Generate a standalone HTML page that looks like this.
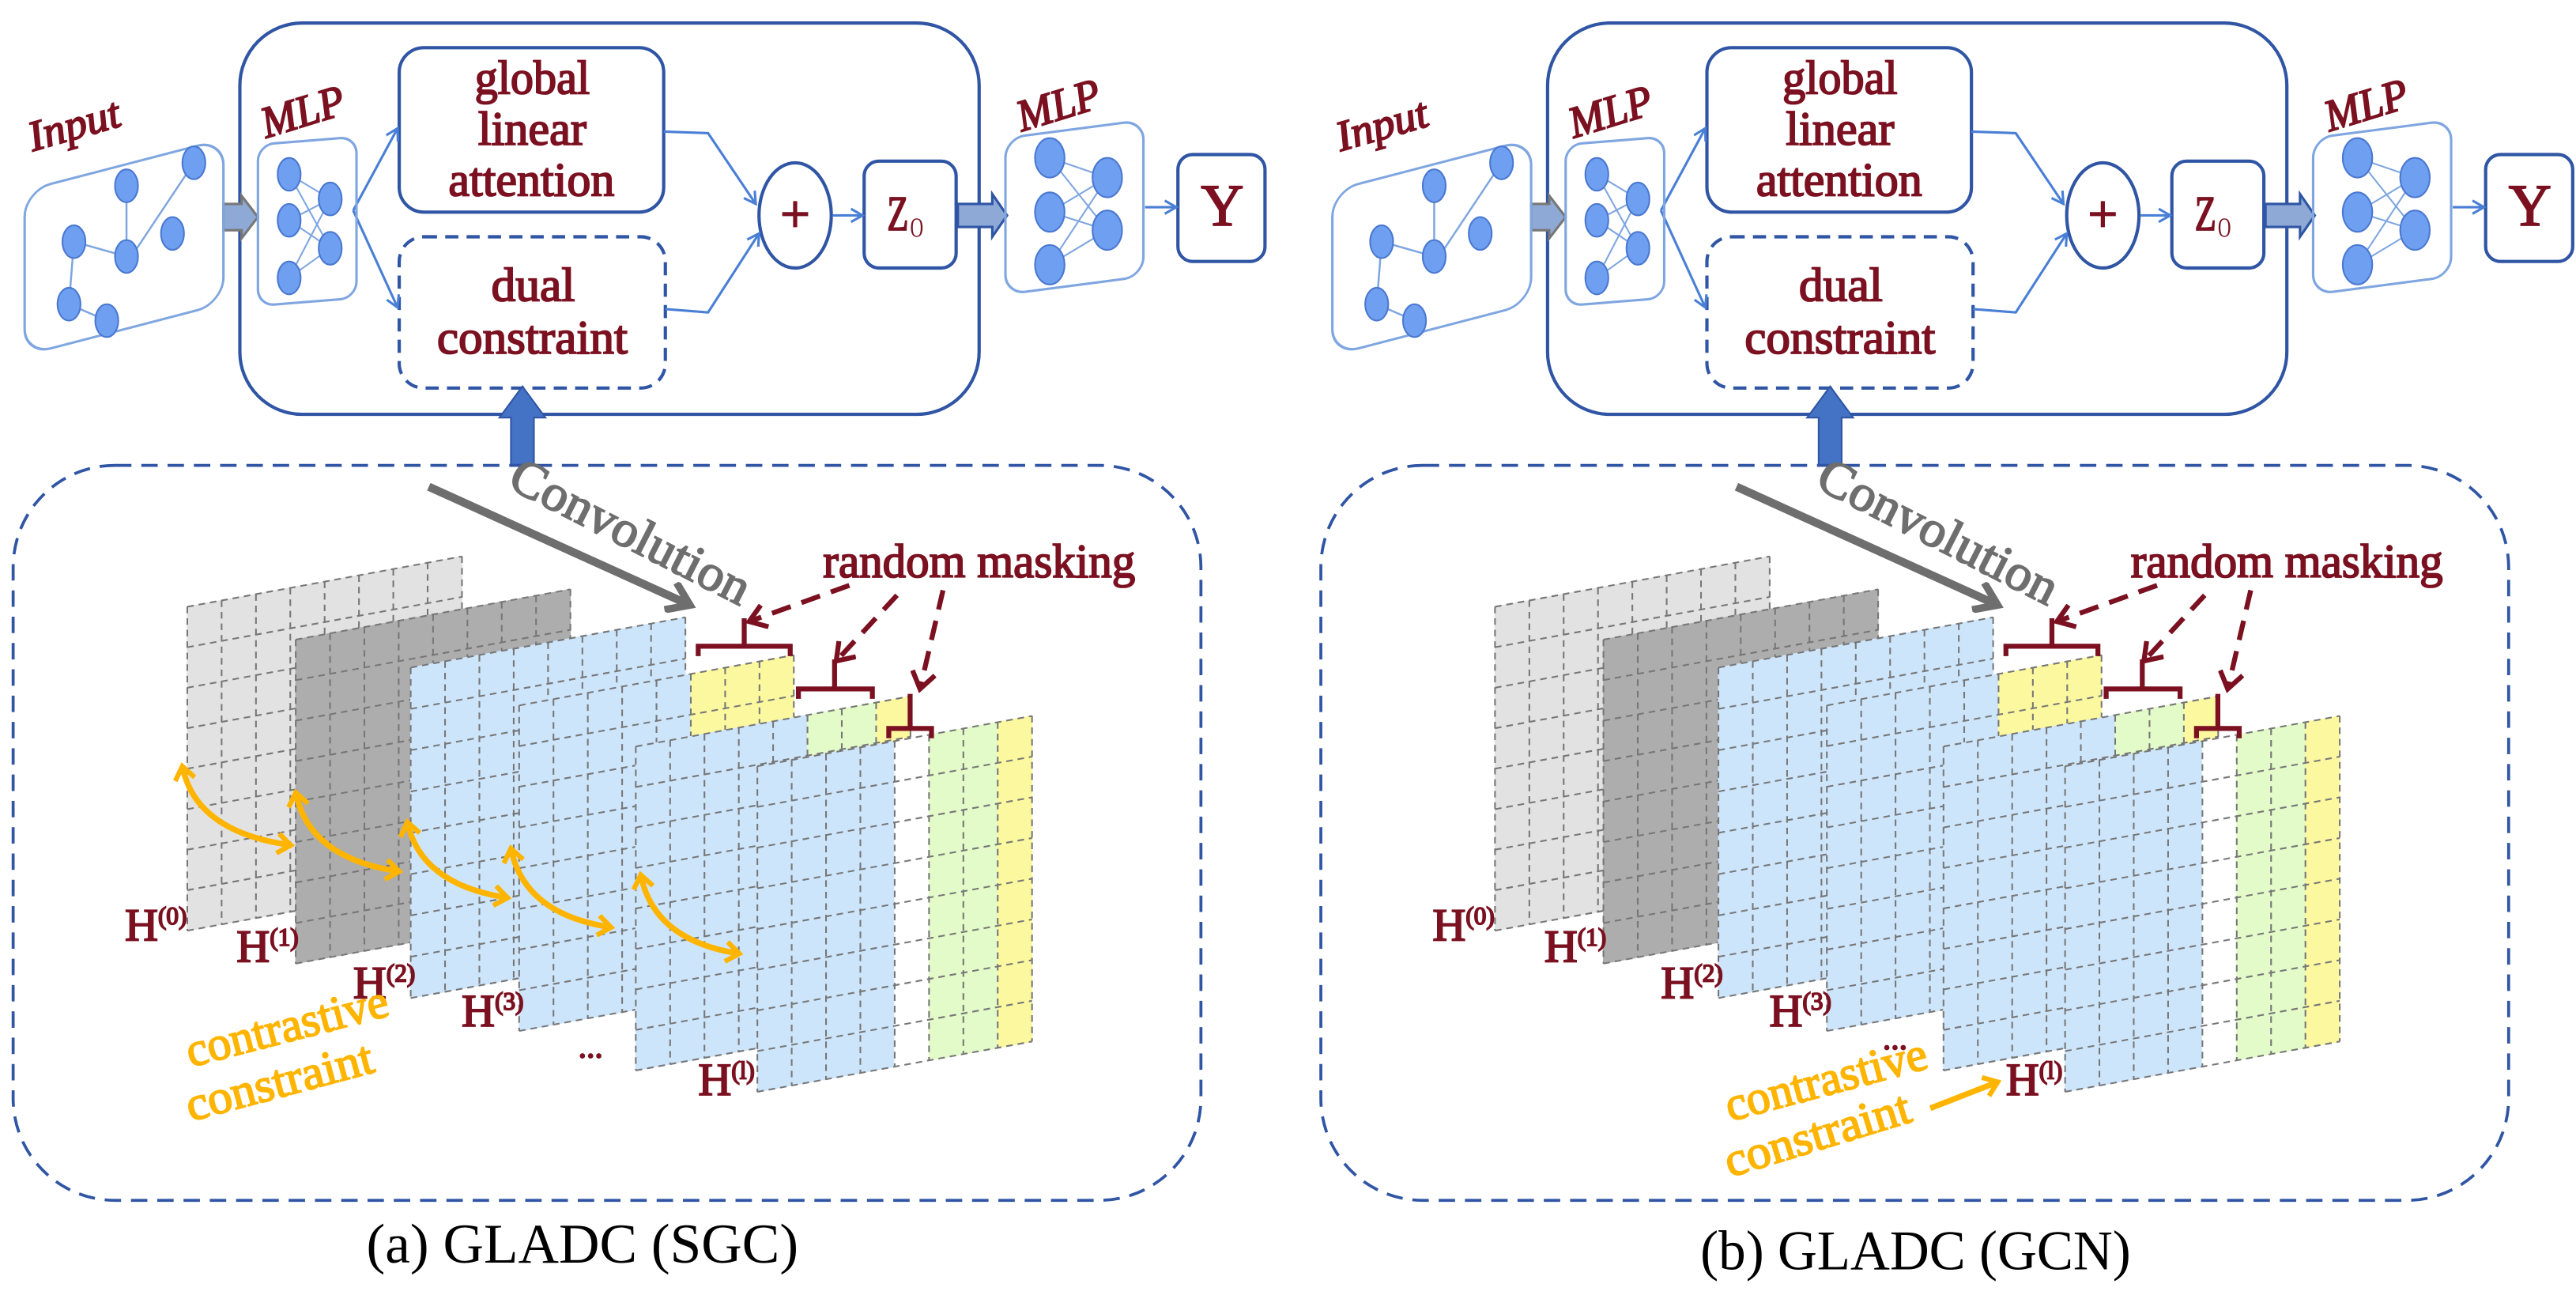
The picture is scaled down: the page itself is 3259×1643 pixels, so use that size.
<!DOCTYPE html>
<html><head><meta charset="utf-8"><style>
html,body{margin:0;padding:0;background:#fff;}
svg{display:block}
</style></head><body>
<svg id="s" width="3259" height="1643" viewBox="0 0 1568 790" preserveAspectRatio="none" xmlns="http://www.w3.org/2000/svg">
<defs>
<marker id="oa" markerWidth="14" markerHeight="14" refX="10" refY="7" orient="auto-start-reverse" markerUnits="userSpaceOnUse"><path d="M2,1 L10,7 L2,13" fill="none" stroke="#ffb400" stroke-width="3"/></marker>
</defs>
<g id="pa"></g>
<g id="pb" transform="translate(796,0)"></g>
</svg>
<script>
var NS="http://www.w3.org/2000/svg";
function el(p,tag,a,txt){var e=document.createElementNS(NS,tag);for(var k in a)e.setAttribute(k,a[k]);if(txt)e.textContent=txt;p.appendChild(e);return e;}
var BLUE="#cde5fb",YEL="#fbf8a0",GRN="#e3fbc8";
function layer(g,x,y,h,cols){
 var cw=20.9,s=-0.183,n=cols.length,rows=8,rh=h/rows;
 for(var i=0;i<n;i++){if(!cols[i])continue;var x0=x+i*cw,x1=x0+cw;
  el(g,"polygon",{points:[x0,y+s*i*cw,x1,y+s*(i+1)*cw,x1,y+s*(i+1)*cw+h,x0,y+s*i*cw+h].join(" "),fill:cols[i],stroke:cols[i],"stroke-width":0.5});}
 var st={stroke:"#777","stroke-width":1,"stroke-dasharray":"4,3",fill:"none"};
 for(var i=0;i<=n;i++){var xx=x+i*cw,yy=y+s*i*cw;var a=Object.assign({x1:xx,y1:yy,x2:xx,y2:yy+h},st);el(g,"line",a);}
 for(var r=0;r<=rows;r++){var a=Object.assign({x1:x,y1:y+r*rh,x2:x+n*cw,y2:y+s*n*cw+r*rh},st);el(g,"line",a);}
}
function common(g){
 var B8=[BLUE,BLUE,BLUE,BLUE,BLUE,BLUE,BLUE,BLUE];
 layer(g,114,369,197,Array(8).fill("#e2e2e2"));
 layer(g,180,389,197,Array(8).fill("#adadad"));
 layer(g,250,406,201,B8);
 layer(g,316,429,198,[BLUE,BLUE,BLUE,BLUE,BLUE,YEL,YEL,YEL]);
 layer(g,387,454,197,[BLUE,BLUE,BLUE,BLUE,BLUE,GRN,GRN,YEL]);
 layer(g,461,466,198,[BLUE,BLUE,BLUE,BLUE,"#ffffff",GRN,GRN,YEL]);
}
function arrowsA(g){
 var A=[[111,466,177,514],[180,482,243,530],[248,500,309,546],[311,516,372,564],[390,532,450,580]];
 A.forEach(function(a){el(g,"path",{d:"M"+a[0]+","+a[1]+" Q"+(a[0]+8)+","+(a[3]-8)+" "+a[2]+","+a[3],fill:"none",stroke:"#ffb400","stroke-width":3.5,"marker-start":"url(#oa)","marker-end":"url(#oa)"});});
}
["pa","pb"].forEach(function(id){
 var g=document.getElementById(id);
 common(g);
 if(id=="pa")arrowsA(g);
 else el(g,"line",{x1:379,y1:674,x2:420,y2:658,stroke:"#ffb400","stroke-width":3.5,"marker-end":"url(#oa)"});
});
</script>
<svg width="3259" height="1643" viewBox="0 0 1568 790" preserveAspectRatio="none" xmlns="http://www.w3.org/2000/svg" style="position:absolute;left:0;top:0">
<defs>
<marker id="ah2" markerWidth="10" markerHeight="10" refX="8" refY="5" orient="auto" markerUnits="userSpaceOnUse"><path d="M1,1 L8,5 L1,9" fill="none" stroke="#4a7fd6" stroke-width="1.5"/></marker>
<marker id="ra2" markerWidth="16" markerHeight="16" refX="12" refY="8" orient="auto" markerUnits="userSpaceOnUse"><path d="M2,1 L12,8 L2,15" fill="none" stroke="#7b1020" stroke-width="3"/></marker>
<marker id="ga2" markerWidth="20" markerHeight="20" refX="15" refY="10" orient="auto" markerUnits="userSpaceOnUse"><path d="M2,1 L15,10 L2,19" fill="none" stroke="#6e6e6e" stroke-width="4.5"/></marker>
</defs>
<g id="topA">
 <rect x="146" y="14" width="450" height="238" rx="38" fill="none" stroke="#2f55a4" stroke-width="2"/>
 <rect x="243" y="29" width="161" height="100" rx="15" fill="none" stroke="#2f55a4" stroke-width="2"/>
 <rect x="243" y="144" width="162" height="92" rx="15" fill="none" stroke="#2f55a4" stroke-width="2" stroke-dasharray="8,5"/>
 <ellipse cx="484" cy="131" rx="22" ry="32" fill="none" stroke="#2f55a4" stroke-width="2"/>
 <rect x="526" y="98" width="56" height="65" rx="9" fill="none" stroke="#2f55a4" stroke-width="2"/>
 <rect x="717" y="94" width="53" height="65" rx="9" fill="none" stroke="#2f55a4" stroke-width="2"/>
 <path d="M215,128 L242,78" fill="none" stroke="#4a7fd6" stroke-width="1.5" marker-end="url(#ah2)"/>
 <path d="M215,128 L242,187" fill="none" stroke="#4a7fd6" stroke-width="1.5" marker-end="url(#ah2)"/>
 <path d="M404,80 L431,81 L460,124" fill="none" stroke="#4a7fd6" stroke-width="1.5" marker-end="url(#ah2)"/>
 <path d="M405,188 L431,190 L462,142" fill="none" stroke="#4a7fd6" stroke-width="1.5" marker-end="url(#ah2)"/>
 <path d="M507,131 L525,131" fill="none" stroke="#4a7fd6" stroke-width="1.5" marker-end="url(#ah2)"/>
 <path d="M697,126 L716,126" fill="none" stroke="#4a7fd6" stroke-width="1.5" marker-end="url(#ah2)"/>
 <path d="M136,124 L147,124 L147,119 L157,132 L147,145 L147,140 L136,140 Z" fill="#8fa9d6" stroke="#777" stroke-width="1.5"/>
 <path d="M583,124 L604,124 L604,118 L613,131 L604,144 L604,138 L583,138 Z" fill="#8fa9d6" stroke="#2f55a4" stroke-width="1.5"/>
 <path d="M318,235 L332,254 L325,254 L325,283 L311,283 L311,254 L304,254 Z" fill="#4472c4" stroke="#2f55a4" stroke-width="1"/>
 <g transform="matrix(1,-0.26,0,1,15,116)"><rect x="0" y="0" width="121" height="100" rx="16" fill="none" stroke="#7fa6e0" stroke-width="1.5"/></g>
 <g stroke="#7fa6e0" stroke-width="1.2">
  <line x1="77" y1="113" x2="77" y2="156"/><line x1="118" y1="99" x2="80" y2="156"/>
  <line x1="45" y1="147" x2="77" y2="156"/><line x1="45" y1="147" x2="42" y2="185"/><line x1="42" y1="185" x2="65" y2="195"/>
 </g>
 <g fill="#6f9ff0" stroke="#4a78d0" stroke-width="1">
  <ellipse cx="118" cy="99" rx="7" ry="10"/><ellipse cx="77" cy="113" rx="7" ry="10"/><ellipse cx="105" cy="142" rx="7" ry="10"/>
  <ellipse cx="45" cy="147" rx="7" ry="10"/><ellipse cx="77" cy="156" rx="7" ry="10"/><ellipse cx="42" cy="185" rx="7" ry="10"/><ellipse cx="65" cy="195" rx="7" ry="10"/>
 </g>
 <g transform="matrix(1,-0.08,0,1,157,88)"><rect x="0" y="0" width="60" height="98" rx="10" fill="none" stroke="#7fa6e0" stroke-width="1.5"/></g>
 <g stroke="#7fa6e0" stroke-width="1">
  <line x1="176" y1="106" x2="201" y2="121"/><line x1="176" y1="106" x2="201" y2="151"/><line x1="176" y1="134" x2="201" y2="121"/><line x1="176" y1="134" x2="201" y2="151"/><line x1="176" y1="169" x2="201" y2="121"/><line x1="176" y1="169" x2="201" y2="151"/>
 </g>
 <g fill="#6f9ff0" stroke="#4a78d0" stroke-width="1">
  <ellipse cx="176" cy="106" rx="7" ry="10"/><ellipse cx="176" cy="134" rx="7" ry="10"/><ellipse cx="176" cy="169" rx="7" ry="10"/><ellipse cx="201" cy="121" rx="7" ry="10"/><ellipse cx="201" cy="151" rx="7" ry="10"/>
 </g>
 <g transform="matrix(1,-0.13,0,1,612,84)"><rect x="0" y="0" width="84" height="95" rx="12" fill="none" stroke="#7fa6e0" stroke-width="1.5"/></g>
 <g stroke="#7fa6e0" stroke-width="1">
  <line x1="639" y1="96" x2="674" y2="108"/><line x1="639" y1="96" x2="674" y2="140"/><line x1="639" y1="129" x2="674" y2="108"/><line x1="639" y1="129" x2="674" y2="140"/><line x1="639" y1="161" x2="674" y2="108"/><line x1="639" y1="161" x2="674" y2="140"/>
 </g>
 <g fill="#6f9ff0" stroke="#4a78d0" stroke-width="1">
  <ellipse cx="639" cy="96" rx="9" ry="12"/><ellipse cx="639" cy="129" rx="9" ry="12"/><ellipse cx="639" cy="161" rx="9" ry="12"/><ellipse cx="674" cy="108" rx="9" ry="12"/><ellipse cx="674" cy="140" rx="9" ry="12"/>
 </g>
 <g font-family="Liberation Serif, serif" fill="#7b1020" stroke="#7b1020" stroke-width="0.9">
 <g font-size="29">
  <text x="289" y="57" textLength="70" lengthAdjust="spacingAndGlyphs">global</text>
  <text x="291" y="88" textLength="66" lengthAdjust="spacingAndGlyphs">linear</text>
  <text x="273" y="119" textLength="101" lengthAdjust="spacingAndGlyphs">attention</text>
  <text x="299" y="183" textLength="51" lengthAdjust="spacingAndGlyphs">dual</text>
  <text x="266" y="215" textLength="116" lengthAdjust="spacingAndGlyphs">constraint</text>
 </g>
 <text x="484" y="141" font-size="32" text-anchor="middle">+</text>
 <text x="540" y="140" font-size="30" textLength="13" lengthAdjust="spacingAndGlyphs">Z</text>
 <text x="554" y="144" font-size="17" stroke-width="0" textLength="8" lengthAdjust="spacingAndGlyphs">O</text>
 <text x="744" y="137" font-size="36" text-anchor="middle">Y</text>
 <text x="20" y="92" font-size="26" font-style="italic" transform="rotate(-16 20 92)" textLength="57" lengthAdjust="spacingAndGlyphs">Input</text>
 <text x="162" y="84" font-size="27" font-style="italic" transform="rotate(-17 162 84)" textLength="52" lengthAdjust="spacingAndGlyphs">MLP</text>
 <text x="622" y="80" font-size="27" font-style="italic" transform="rotate(-17 622 80)" textLength="52" lengthAdjust="spacingAndGlyphs">MLP</text>
 <text x="501" y="351" font-size="29" textLength="190" lengthAdjust="spacingAndGlyphs">random masking</text>
 <g font-size="28">
  <text x="76" y="572">H<tspan font-size="15" dy="-10">(0)</tspan></text>
  <text x="144" y="585">H<tspan font-size="15" dy="-10">(1)</tspan></text>
  <text x="215" y="607">H<tspan font-size="15" dy="-10">(2)</tspan></text>
  <text x="281" y="624">H<tspan font-size="15" dy="-10">(3)</tspan></text>
  <text x="425" y="666">H<tspan font-size="15" dy="-10">(l)</tspan></text>
 </g>
 </g>
 <rect x="8" y="283" width="723" height="447" rx="62" fill="none" stroke="#2f55a4" stroke-width="1.8" stroke-dasharray="10,6"/>
 <line x1="261" y1="296" x2="420" y2="368" stroke="#6e6e6e" stroke-width="5" marker-end="url(#ga2)"/>
 <text x="308" y="296" font-family="Liberation Serif, serif" font-size="31" fill="#6e6e6e" stroke="#6e6e6e" stroke-width="0.9" transform="rotate(27 308 296)" textLength="160" lengthAdjust="spacingAndGlyphs">Convolution</text>
 <g stroke="#7b1020" stroke-width="3" fill="none">
  <path d="M425,399 L425,393 L481,393 L481,399"/><line x1="453" y1="393" x2="453" y2="376"/>
  <path d="M486,425 L486,419 L531,419 L531,425"/><line x1="508" y1="419" x2="508" y2="401"/>
  <path d="M541,449 L541,443 L567,443 L567,449"/><line x1="554" y1="443" x2="554" y2="422"/>
  <line x1="517" y1="356" x2="456" y2="378" stroke-dasharray="12,7" marker-end="url(#ra2)"/>
  <line x1="546" y1="362" x2="509" y2="402" stroke-dasharray="12,7" marker-end="url(#ra2)"/>
  <line x1="574" y1="359" x2="560" y2="419" stroke-dasharray="12,7" marker-end="url(#ra2)"/>
 </g>
</g>
<use href="#topA" transform="translate(796,0)"/>
<g font-family="Liberation Serif, serif" fill="#7b1020" stroke="#7b1020" stroke-width="0.9" font-size="20"><text x="352" y="643">...</text><text x="1146" y="638">...</text></g>
<g font-family="Liberation Serif, serif" font-size="29" fill="#ffb400" stroke="#ffb400" stroke-width="0.9">
 <text x="116" y="649" transform="rotate(-14.5 116 649)" textLength="126" lengthAdjust="spacingAndGlyphs">contrastive</text>
 <text x="116" y="682" transform="rotate(-15 116 682)" textLength="117" lengthAdjust="spacingAndGlyphs">constraint</text>
 <text x="1053" y="682" transform="rotate(-15 1053 682)" textLength="126" lengthAdjust="spacingAndGlyphs">contrastive</text>
 <text x="1053" y="716" transform="rotate(-17 1053 716)" textLength="117" lengthAdjust="spacingAndGlyphs">constraint</text>
</g>
<g font-family="Liberation Serif, serif" font-size="34" fill="#000">
 <text x="223" y="768" textLength="263" lengthAdjust="spacingAndGlyphs">(a)  GLADC (SGC)</text>
 <text x="1035" y="772" textLength="262" lengthAdjust="spacingAndGlyphs">(b)  GLADC (GCN)</text>
</g>
</svg>
</body></html>
